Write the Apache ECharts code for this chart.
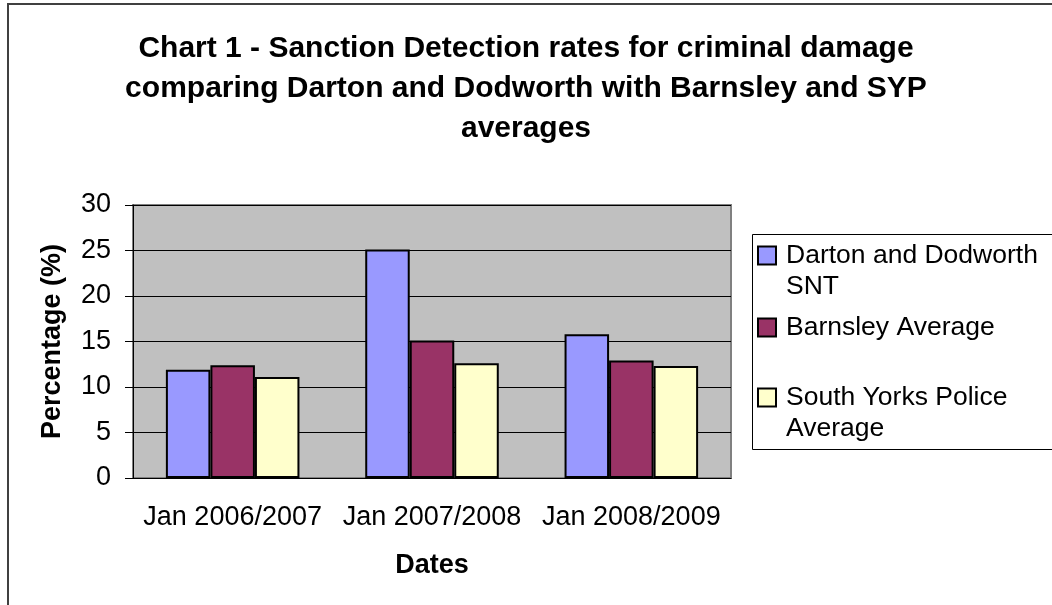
<!DOCTYPE html>
<html>
<head>
<meta charset="utf-8">
<script src="https://cdn.jsdelivr.net/npm/echarts@6/dist/echarts.min.js"></script>
<style>
  html, body { margin: 0; padding: 0; background: #fff; }
  #chart { width: 1052px; height: 605px; }
</style>
</head>
<body>
<div id="chart"></div>
<script>
// 数据
var categories = ['Jan 2006/2007', 'Jan 2007/2008', 'Jan 2008/2009'];
var dartonDodworth = [11.9, 25.1, 15.8];
var barnsleyAvg = [12.4, 15.1, 12.9];
var sypAvg = [11.1, 12.6, 12.3];
var seriesNames = ['Darton and Dodworth SNT', 'Barnsley Average', 'South Yorks Police Average'];
var legendLines = [['Darton and Dodworth', 'SNT'], ['Barnsley Average'], ['South Yorks Police', 'Average']];
var seriesColors = ['#9999FF', '#993366', '#FFFFCC'];
var yMin = 0, yMax = 30, yStep = 5;

var FONT = 'Liberation Sans, Arial, sans-serif';

function makeBar(name, data, color) {
    return {
        name: name,
        type: 'bar',
        data: data,
        barGap: '0%',
        barCategoryGap: '33%',
        itemStyle: { color: color, borderColor: '#000', borderWidth: 2 }
    };
}

// 图例: 每项一个legend，方块用富文本画
var legendTops = [240, 312, 382];
var legends = seriesNames.map(function(name, i) {
    var lines = legendLines[i];
    var rich = {
        sq: { width: 16, height: 16, backgroundColor: seriesColors[i], borderColor: '#000', borderWidth: 2, verticalAlign: 'middle' },
        gap: { width: 11 },
        pad: { width: 27 },
        t: { fontSize: 26.5, lineHeight: 31, color: '#000', fontFamily: FONT, verticalAlign: 'middle' }
    };
    return {
        data: [name],
        left: 753,
        top: legendTops[i],
        padding: 0,
        itemWidth: 0,
        itemHeight: 0,
        itemStyle: { opacity: 0 },
        selectedMode: false,
        formatter: function() {
            var s = '{sq|}{gap|}{t|' + lines[0] + '}';
            for (var k = 1; k < lines.length; k++) {
                s += '\n{pad|}{t|' + lines[k] + '}';
            }
            return s;
        },
        textStyle: { rich: rich, fontSize: 26.5, lineHeight: 31 }
    };
});

var myChart = echarts.init(document.getElementById('chart'));
var option = {
    backgroundColor: '#fff',
    animation: false,
    title: {
        text: 'Chart 1 - Sanction Detection rates for criminal damage\ncomparing Darton and Dodworth with Barnsley and SYP\naverages',
        left: 'center',
        top: 29,
        padding: 0,
        textStyle: { fontFamily: FONT, fontSize: 30, fontWeight: 'bold', color: '#000', lineHeight: 40, align: 'center' }
    },
    legend: legends,
    grid: {
        left: 133, right: 321, top: 205, bottom: 127,
        show: true,
        backgroundColor: '#C0C0C0',
        borderColor: '#808080',
        borderWidth: 2
    },
    xAxis: {
        type: 'category',
        data: categories,
        name: 'Dates',
        nameLocation: 'middle',
        nameGap: 74,
        nameTextStyle: { fontFamily: FONT, fontSize: 27, fontWeight: 'bold', color: '#000' },
        axisLine: { lineStyle: { color: '#000', width: 1 } },
        axisTick: { length: 9, lineStyle: { color: '#000' } },
        axisLabel: { fontFamily: FONT, fontSize: 27, color: '#000', margin: 26, interval: 0 }
    },
    yAxis: {
        type: 'value',
        min: yMin,
        max: yMax,
        interval: yStep,
        name: 'Percentage (%)',
        nameLocation: 'middle',
        nameRotate: 90,
        nameGap: 67,
        nameTextStyle: { fontFamily: FONT, fontSize: 27, fontWeight: 'bold', color: '#000' },
        axisLine: { show: true, lineStyle: { color: '#000', width: 1 } },
        axisTick: { show: true, length: 8, lineStyle: { color: '#000' } },
        axisLabel: { fontFamily: FONT, fontSize: 27, color: '#000', margin: 22 },
        splitLine: { lineStyle: { color: '#000', width: 1 } }
    },
    graphic: [
        { type: 'rect', shape: { x: 8, y: 4, width: 1100, height: 700 }, style: { fill: 'none', stroke: '#404040', lineWidth: 2 }, silent: true },
        { type: 'rect', shape: { x: 752.5, y: 234.5, width: 400, height: 215 }, style: { fill: 'none', stroke: '#000', lineWidth: 1 }, silent: true }
    ],
    series: [
        makeBar(seriesNames[0], dartonDodworth, seriesColors[0]),
        makeBar(seriesNames[1], barnsleyAvg, seriesColors[1]),
        makeBar(seriesNames[2], sypAvg, seriesColors[2])
    ]
};
myChart.setOption(option);
</script>
</body>
</html>
